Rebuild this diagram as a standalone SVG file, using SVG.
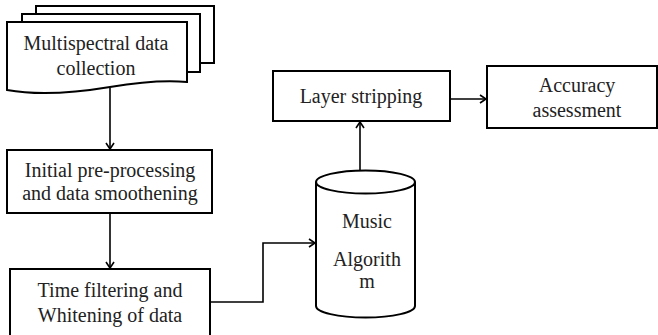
<svg xmlns="http://www.w3.org/2000/svg" width="658" height="335" viewBox="0 0 658 335">
<defs>
<style>
.box{fill:#fff;stroke:#000;stroke-width:2}
.ln{fill:none;stroke:#000;stroke-width:1.6}
text{font-family:"Liberation Serif","Times New Roman",serif;font-size:20px;fill:#222;text-anchor:middle}
</style>
<marker id="arr" markerWidth="10" markerHeight="10" refX="8" refY="5" orient="auto" markerUnits="userSpaceOnUse">
<path d="M2,1 L8,5 L2,9" fill="none" stroke="#000" stroke-width="1.6"/>
</marker>
</defs>
<rect width="658" height="335" fill="#fff"/>
<g id="multispectral">
<rect class="box" x="36" y="6" width="178" height="57"/>
<rect class="box" x="22" y="14" width="178" height="58"/>
<path class="box" d="M7,22 H187 V82 C165,80 140,82 110,87 C80,92 40,96 7,90 Z"/>
<text x="96" y="50">Multispectral data</text>
<text x="96" y="75">collection</text>
</g>
<g id="preprocessing">
<rect class="box" x="7" y="150" width="205" height="63"/>
<text x="110" y="177">Initial pre-processing</text>
<text x="110" y="200">and data smoothening</text>
</g>
<g id="timefiltering">
<rect class="box" x="10" y="269" width="200" height="80"/>
<text x="110" y="297">Time filtering and</text>
<text x="110" y="322">Whitening of data</text>
</g>
<g id="music">
<path class="box" d="M316,182 V306 A49.5,11.5 0 0 0 415,306 V182"/>
<ellipse class="box" cx="365.5" cy="182" rx="49.5" ry="11.5"/>
<text x="367" y="228">Music</text>
<text x="367" y="266">Algorith</text>
<text x="367" y="288">m</text>
</g>
<g id="layerstripping">
<rect class="box" x="273" y="71" width="177" height="50"/>
<text x="361" y="103">Layer stripping</text>
</g>
<g id="accuracy">
<rect class="box" x="487" y="66" width="170" height="62"/>
<text x="577" y="92">Accuracy</text>
<text x="577" y="117">assessment</text>
</g>
<g id="connectors">
<path class="ln" d="M110,88 V149" marker-end="url(#arr)"/>
<path class="ln" d="M110,213 V268" marker-end="url(#arr)"/>
<path class="ln" d="M210,302 H263 V243 H315" marker-end="url(#arr)"/>
<path class="ln" d="M360,170 V122" marker-end="url(#arr)"/>
<path class="ln" d="M450,99 H486" marker-end="url(#arr)"/>
</g>
</svg>
